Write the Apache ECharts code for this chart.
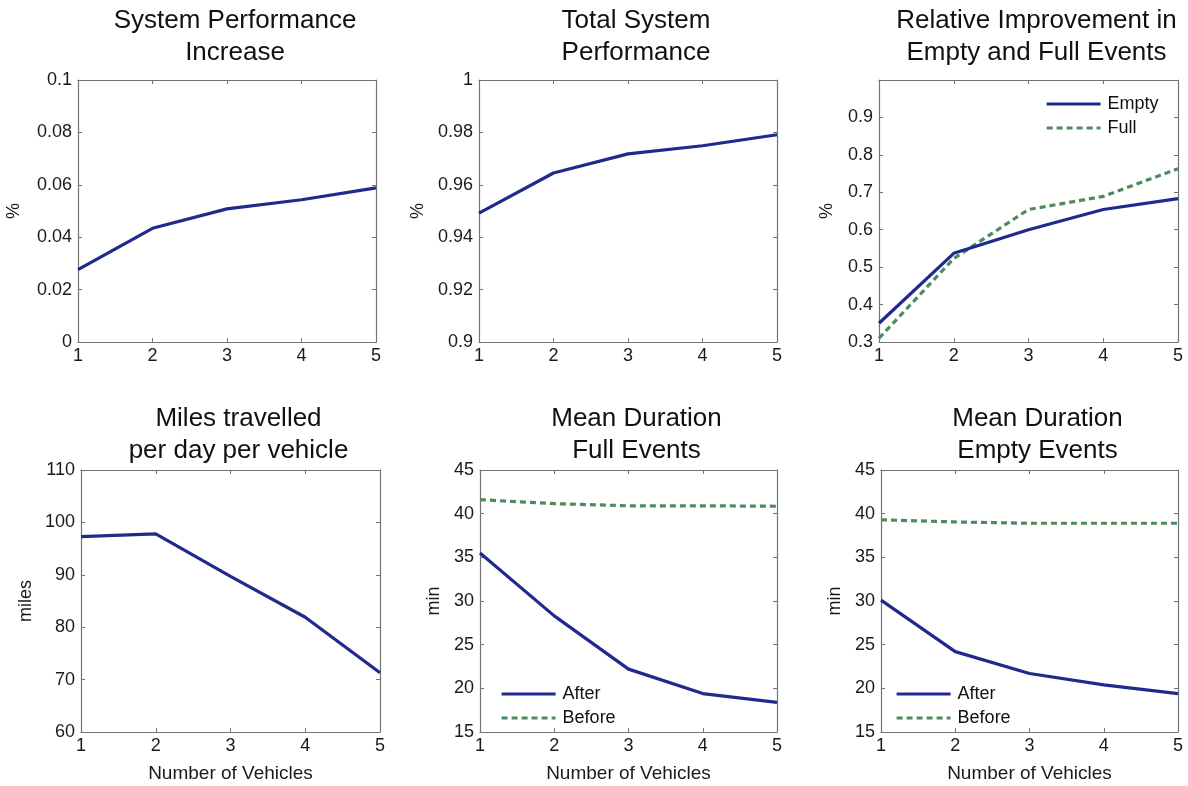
<!DOCTYPE html>
<html>
<head>
<meta charset="utf-8">
<script src="https://cdn.jsdelivr.net/npm/echarts@6/dist/echarts.min.js"></script>
<style>
  html, body { margin: 0; padding: 0; background: #fff; }
  #chart { width: 1188px; height: 786px; }
</style>
</head>
<body>
<div id="chart"></div>
<script>
// Number of vehicles on the shared x axis
const vehicles = [1, 2, 3, 4, 5];

// System performance increase (%)
const perfIncrease = [0.0276, 0.0434, 0.0508, 0.0543, 0.0588];
// Total system performance (%)
const perfTotal = [0.9492, 0.9645, 0.9718, 0.9749, 0.9791];
// Relative improvement in empty / full events (%)
const relEmpty = [0.350, 0.537, 0.600, 0.654, 0.683];
const relFull = [0.310, 0.523, 0.654, 0.689, 0.763];
// Miles travelled per day per vehicle
const milesPerDay = [97.3, 97.8, 89.7, 81.9, 71.3];
// Mean duration of full events (min)
const fullAfter = [35.5, 28.3, 22.2, 19.4, 18.4];
const fullBefore = [41.6, 41.15, 40.9, 40.9, 40.85];
// Mean duration of empty events (min)
const emptyAfter = [30.1, 24.2, 21.7, 20.4, 19.4];
const emptyBefore = [39.3, 39.05, 38.9, 38.9, 38.9];

const BLUE = '#1f2a8c';
const GREEN = '#4f8a5e';
const AXIS = '#737373';
const FONT = '"Liberation Sans", Arial, Helvetica, sans-serif';

const zip = ys => vehicles.map((x, i) => [x, ys[i]]);

// Panel layout: grid boxes in pixels
const panels = [
  { left: 78,  top: 80,  width: 298, height: 262, titleTop: 0,   title: 'System Performance\nIncrease',           yName: '%',     yGap: 55, min: 0,   max: 0.1, interval: 0.02, xName: '' },
  { left: 479, top: 80,  width: 298, height: 262, titleTop: 0,   title: 'Total System\nPerformance',              yName: '%',     yGap: 52, min: 0.9, max: 1,   interval: 0.02, xName: '' },
  { left: 879, top: 80,  width: 299, height: 262, titleTop: 0,   title: 'Relative Improvement in\nEmpty and Full Events', yName: '%', yGap: 43, min: 0.3, max: 1, interval: 0.1, xName: '', hideMax: true },
  { left: 81,  top: 470, width: 299, height: 262, titleTop: 398, title: 'Miles travelled\nper day per vehicle',   yName: 'miles', yGap: 46, min: 60,  max: 110, interval: 10,  xName: 'Number of Vehicles' },
  { left: 480, top: 470, width: 297, height: 262, titleTop: 398, title: 'Mean Duration\nFull Events',            yName: 'min',   yGap: 37, min: 15,  max: 45,  interval: 5,   xName: 'Number of Vehicles' },
  { left: 881, top: 470, width: 297, height: 262, titleTop: 398, title: 'Mean Duration\nEmpty Events',           yName: 'min',   yGap: 37, min: 15,  max: 45,  interval: 5,   xName: 'Number of Vehicles' }
];

const grid = [], xAxis = [], yAxis = [], title = [];
panels.forEach((p, i) => {
  grid.push({ left: p.left, top: p.top, width: p.width, height: p.height, containLabel: false });
  title.push({
    text: p.title,
    left: p.left + p.width / 2 + 3,
    top: p.titleTop,
    textAlign: 'center',
    textStyle: { fontFamily: FONT, fontSize: 26, fontWeight: 'normal', color: '#111', lineHeight: 32 }
  });
  const tick = { show: true, inside: true, length: 4, lineStyle: { color: AXIS, width: 1 } };
  const line = { show: true, onZero: false, lineStyle: { color: AXIS, width: 1.2 } };
  // bottom axis with labels
  xAxis.push({
    type: 'value', gridIndex: i, min: 1, max: 5, interval: 1, position: 'bottom',
    axisLine: line, axisTick: tick, splitLine: { show: false },
    axisLabel: { fontFamily: FONT, fontSize: 18, color: '#1a1a1a', margin: 5 },
    name: p.xName, nameLocation: 'middle', nameGap: 32,
    nameTextStyle: { fontFamily: FONT, fontSize: 19, color: '#1a1a1a' }
  });
  // top axis: box edge with ticks only
  xAxis.push({
    type: 'value', gridIndex: i, min: 1, max: 5, interval: 1, position: 'top',
    axisLine: line, axisTick: tick, splitLine: { show: false }, axisLabel: { show: false }
  });
  yAxis.push({
    type: 'value', gridIndex: i, min: p.min, max: p.max, interval: p.interval, position: 'left',
    axisLine: line, axisTick: tick, splitLine: { show: false },
    axisLabel: { fontFamily: FONT, fontSize: 18, color: '#1a1a1a', margin: 6, showMaxLabel: !p.hideMax },
    name: p.yName, nameLocation: 'middle', nameGap: p.yGap, nameRotate: 90,
    nameTextStyle: { fontFamily: FONT, fontSize: 18, color: '#1a1a1a' }
  });
  yAxis.push({
    type: 'value', gridIndex: i, min: p.min, max: p.max, interval: p.interval, position: 'right',
    axisLine: line, axisTick: tick, splitLine: { show: false }, axisLabel: { show: false }
  });
});

function solid(name, panel, data) {
  return {
    name, type: 'line', xAxisIndex: panel * 2, yAxisIndex: panel * 2, data: zip(data),
    symbol: 'none', lineStyle: { color: BLUE, width: 3.2 }, itemStyle: { color: BLUE }, z: 3
  };
}
function dashed(name, panel, data) {
  return {
    name, type: 'line', xAxisIndex: panel * 2, yAxisIndex: panel * 2, data: zip(data),
    symbol: 'none', lineStyle: { color: GREEN, width: 3.2, type: [6, 4] }, itemStyle: { color: GREEN }, z: 2
  };
}

const series = [
  solid('System Performance Increase', 0, perfIncrease),
  solid('Total System Performance', 1, perfTotal),
  solid('Empty', 2, relEmpty),
  dashed('Full', 2, relFull),
  solid('Miles', 3, milesPerDay),
  solid('After', 4, fullAfter),
  dashed('Before', 4, fullBefore),
  solid('After', 5, emptyAfter),
  dashed('Before', 5, emptyBefore)
];

// Line-only legend keys (marker hidden)
const legendBase = {
  orient: 'vertical', itemWidth: 54, itemHeight: 16, itemGap: 6,
  selectedMode: false, padding: 0,
  itemStyle: { opacity: 0 },
  lineStyle: { width: 3.2 },
  textStyle: { fontFamily: FONT, fontSize: 18, color: '#111', padding: [0, 0, 0, 2] }
};
const legend = [
  Object.assign({}, legendBase, { left: 1045, top: 95, data: ['Empty', 'Full'] }),
  Object.assign({}, legendBase, { left: 500, top: 685, data: ['After', 'Before'] }),
  Object.assign({}, legendBase, { left: 895, top: 685, data: ['After', 'Before'] })
];

const chart = echarts.init(document.getElementById('chart'), null, { renderer: 'canvas' });
chart.setOption({
  backgroundColor: '#fff',
  animation: false,
  title, grid, xAxis, yAxis, legend, series
});
</script>
</body>
</html>
